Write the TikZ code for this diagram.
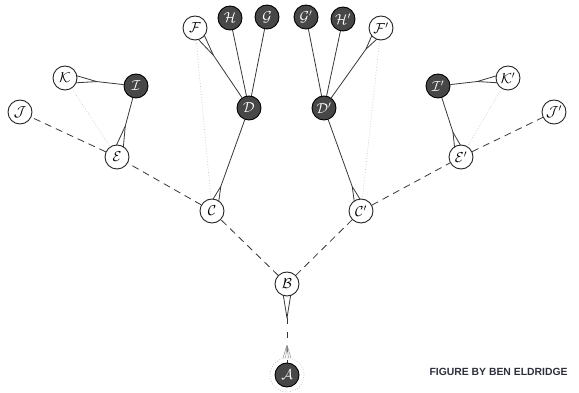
\documentclass[tikz,border=0pt]{standalone}
\usepackage{fontspec}
\newfontfamily\capfont{Liberation Sans}
\usetikzlibrary{calc}
\pgfdeclarelayer{back}
\pgfdeclarelayer{bg}
\pgfsetlayers{back,bg,main}
\definecolor{creditcol}{RGB}{45,48,60}
\tikzset{
  wnode/.style={circle,draw=black!85,line width=0.9pt,fill=white,minimum size=24pt,inner sep=0pt,font=\Large},
  dnode/.style={circle,draw=black,line width=0.9pt,fill=black!72,text=white,minimum size=24pt,inner sep=0pt,font=\Large},
  conn/.style={draw=black!78,line width=0.8pt},
  dashconn/.style={conn,dash pattern=on 7pt off 5pt},
  ghost/.style={draw=black!22,line width=0.7pt,dotted},
  halo/.style={draw=black!35,line width=0.6pt,dotted},
  credit/.style={font=\capfont\bfseries\fontsize{10.4}{12}\selectfont,text=creditcol},
}
\newcommand\mywedge[3]{%
  \path ($(#2)!#3!(#1)$) coordinate (apex);
  \draw[conn] (#1) -- (apex) -- ($(#2)!5.5pt!90:(#1)$);
  \draw[conn] (apex) -- ($(#2)!5.5pt!-90:(#1)$);
}
\begin{document}
\begin{tikzpicture}[x=1pt,y=-1pt]
\useasboundingbox (0,0) rectangle (579,393);
\begin{pgfonlayer}{back}
  \fill[white] (0,0) rectangle (579,393);
\end{pgfonlayer}
% nodes
\node[dnode] (A)  at (287,375) {$\mathcal{A}$};
\node[wnode] (B)  at (287,284) {$\mathcal{B}$};
\node[wnode] (C)  at (212,211) {$\mathcal{C}$};
\node[wnode] (C2) at (361,211) {$\mathcal{C}'$};
\node[dnode] (D)  at (249,108) {$\mathcal{D}$};
\node[dnode] (D2) at (324,108) {$\mathcal{D}'$};
\node[wnode] (E)  at (117,157) {$\mathcal{E}$};
\node[wnode] (E2) at (461,157) {$\mathcal{E}'$};
\node[dnode] (I)  at (136,86)  {$\mathcal{I}$};
\node[dnode] (I2) at (438,86)  {$\mathcal{I}'$};
\node[wnode] (K)  at (65,78)   {$\mathcal{K}$};
\node[wnode] (K2) at (508,78)  {$\mathcal{K}'$};
\node[wnode] (J)  at (20,112)  {$\mathcal{J}$};
\node[wnode] (J2) at (554,112) {$\mathcal{J}'$};
\node[wnode] (F)  at (195,28)  {$\mathcal{F}$};
\node[dnode] (H)  at (230,18)  {$\mathcal{H}$};
\node[dnode] (G)  at (267,17)  {$\mathcal{G}$};
\node[dnode] (G2) at (306,17)  {$\mathcal{G}'$};
\node[dnode] (H2) at (343,19)  {$\mathcal{H}'$};
\node[wnode] (F2) at (381,28)  {$\mathcal{F}'$};
\node[credit,anchor=west] (credit) at (426,372) {FIGURE BY BEN ELDRIDGE};
\begin{pgfonlayer}{bg}
  % faint lines
  \draw[ghost] (K) -- (E);
  \draw[ghost] (K2) -- (E2);
  \draw[ghost] (F) -- (C);
  \draw[ghost] (F2) -- (C2);
  \draw[halo] (A) circle (17pt);
  % dashed tree
  \draw[dashconn] (B) -- (C);
  \draw[dashconn] (B) -- (C2);
  \draw[dashconn] (C) -- (E);
  \draw[dashconn] (E) -- (J);
  \draw[dashconn] (C2) -- (E2);
  \draw[dashconn] (E2) -- (J2);
  % single lines
  \draw[conn] (D) -- (H);
  \draw[conn] (D) -- (G);
  \draw[conn] (D2) -- (G2);
  \draw[conn] (D2) -- (H2);
  % wedges
  \mywedge{D}{C}{26pt}
  \mywedge{D2}{C2}{26pt}
  \mywedge{I}{E}{32pt}
  \mywedge{I}{K}{32pt}
  \mywedge{I2}{E2}{26pt}
  \mywedge{I2}{K2}{31pt}
  \mywedge{D}{F}{33pt}
  \mywedge{D2}{F2}{26pt}
  % B to A
  \path ($(B)!34pt!(A)$) coordinate (bapex);
  \draw[conn] (bapex) -- ($(B)!5.5pt!90:(A)$);
  \draw[conn] (bapex) -- ($(B)!5.5pt!-90:(A)$);
  \draw[conn,line width=0.6pt,dash pattern=on 6pt off 8pt] (bapex) -- (A);
  \draw[black!45,line width=0.5pt] ($(A)+(0,-30)$) -- ($(A)+(-4,-17)$)
        ($(A)+(0,-30)$) -- ($(A)+(4,-17)$)
        ($(A)+(0,-28)$) -- ($(A)+(-1.5,-17)$)
        ($(A)+(0,-28)$) -- ($(A)+(1.5,-17)$);
\end{pgfonlayer}
\end{tikzpicture}
\end{document}
